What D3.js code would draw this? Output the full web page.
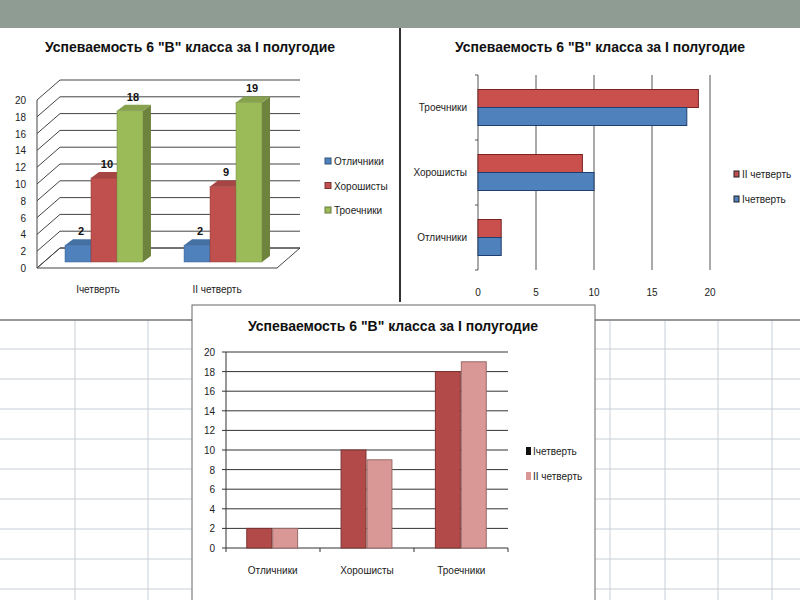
<!DOCTYPE html>
<html><head><meta charset="utf-8">
<script src="https://cdn.jsdelivr.net/npm/d3@7"></script>
<style>body{margin:0;background:#fff}text{font-family:"Liberation Sans Narrow","Liberation Sans",sans-serif}</style>
</head><body>
<svg id="c" width="800" height="600"></svg>
<script>
const title = 'Успеваемость 6 "В" класса за I полугодие';
const categories = ["Отличники", "Хорошисты", "Троечники"];
const quarters = ["Iчетверть", "II четверть"];
const q1 = [2, 10, 18];
const q2 = [2, 9, 19];
const yTicks = d3.range(0, 21, 2);
const xTicks = [0, 5, 10, 15, 20];

const svg = d3.select("#c");
const shade = (c, k) => d3.color(c).darker(k).formatHex();

// background: gray band + spreadsheet grid
svg.append("rect").attr("width", 800).attr("height", 28).attr("fill", "#8f9c94");
const grid = svg.append("g").attr("stroke", "#c9cfd6").attr("stroke-width", 1);
d3.range(349, 600, 30).forEach(y => grid.append("line").attr("x1", 0).attr("x2", 800).attr("y1", y).attr("y2", y));
[75, 148, 610, 665, 718, 772].forEach(x => grid.append("line").attr("x1", x).attr("x2", x).attr("y1", 320).attr("y2", 600));
svg.append("line").attr("x1", 0).attr("x2", 800).attr("y1", 320).attr("y2", 320).attr("stroke", "#777").attr("stroke-width", 1.5);
svg.append("rect").attr("x", 0).attr("y", 28).attr("width", 399).attr("height", 272).attr("fill", "#fff");
svg.append("rect").attr("x", 402).attr("y", 28).attr("width", 398).attr("height", 272).attr("fill", "#fff");
svg.append("line").attr("x1", 400).attr("x2", 400).attr("y1", 28).attr("y2", 302).attr("stroke", "#333").attr("stroke-width", 2);

function titleAt(x, y, size) {
  svg.append("text").attr("x", x).attr("y", y).attr("text-anchor", "middle")
    .attr("font-size", size).attr("font-weight", "bold").attr("fill", "#111").text(title);
}

// ---------- panel 1: 3D columns ----------
{
  const y = d3.scaleLinear().domain([0, 20]).range([268, 100]);
  const dx = 23, dy = -20;
  const g = svg.append("g");
  titleAt(190, 52, 14);
  // floor
  g.append("path").attr("d", `M37,268 L277,268 L${277 + dx},${268 + dy} L${37 + dx},${268 + dy} Z`)
    .attr("fill", "none").attr("stroke", "#444");
  yTicks.forEach(t => {
    g.append("path").attr("d", `M37,${y(t)} L${37 + dx},${y(t) + dy} L${277 + dx},${y(t) + dy}`)
      .attr("fill", "none").attr("stroke", "#444");
    g.append("text").attr("x", 26).attr("y", y(t) + 4).attr("text-anchor", "end")
      .attr("font-size", 10).attr("fill", "#222").text(t);
  });
  g.append("line").attr("x1", 37).attr("x2", 37).attr("y1", y(0)).attr("y2", y(20)).attr("stroke", "#444");
  const colors = ["#4f81bd", "#c0504d", "#9bbb59"];
  const x0 = d3.scaleBand().domain(quarters).range([65, 262]).paddingInner(0.345);
  const x1 = d3.scaleBand().domain(categories).range([0, x0.bandwidth()]);
  const vals = [q1, q2];
  const bd = 8, bdy = -6, base = 262;
  const yb = v => base - (y(0) - y(v));
  quarters.forEach((q, qi) => {
    categories.forEach((c, ci) => {
      const v = vals[qi][ci];
      const x = x0(q) + x1(c), w = x1.bandwidth(), top = yb(v), col = colors[ci];
      g.append("path").attr("d", `M${x + w},${base} L${x + w + bd},${base + bdy} L${x + w + bd},${top + bdy} L${x + w},${top} Z`)
        .attr("fill", shade(col, 1));
      g.append("path").attr("d", `M${x},${top} L${x + bd},${top + bdy} L${x + w + bd},${top + bdy} L${x + w},${top} Z`)
        .attr("fill", shade(col, 0.4));
      g.append("rect").attr("x", x).attr("y", top).attr("width", w).attr("height", base - top)
        .attr("fill", col).attr("stroke", shade(col, 0.8)).attr("stroke-width", 0.5);
      g.append("text").attr("x", x + w / 2 + 3).attr("y", top + bdy - 4).attr("text-anchor", "middle")
        .attr("font-size", 11).attr("font-weight", "bold").attr("fill", "#111").text(v);
    });
    g.append("text").attr("x", x0(q) + x0.bandwidth() / 2 - 6).attr("y", 293).attr("text-anchor", "middle")
      .attr("font-size", 10).attr("fill", "#222").text(q);
  });
  categories.forEach((c, i) => {
    g.append("rect").attr("x", 325).attr("y", 158 + i * 24.5).attr("width", 6).attr("height", 6).attr("fill", colors[i]).attr("stroke", shade(colors[i], 1.2));
    g.append("text").attr("x", 334).attr("y", 165 + i * 24.5).attr("font-size", 10).attr("fill", "#222").text(c);
  });
}

// ---------- panel 2: horizontal bars ----------
{
  titleAt(600, 52, 14);
  const x = d3.scaleLinear().domain([0, 20]).range([478, 710]);
  const y = d3.scaleBand().domain(categories.slice().reverse()).range([75, 270]);
  const g = svg.append("g");
  xTicks.forEach(t => {
    if (t > 0) g.append("line").attr("x1", x(t)).attr("x2", x(t)).attr("y1", 75).attr("y2", 270).attr("stroke", "#555");
    g.append("text").attr("x", x(t)).attr("y", 296).attr("text-anchor", "middle").attr("font-size", 10).attr("fill", "#222").text(t);
  });
  g.append("line").attr("x1", 478).attr("x2", 478).attr("y1", 75).attr("y2", 270).attr("stroke", "#555");
  [75, 140, 205, 270].forEach(t => g.append("line").attr("x1", 475).attr("x2", 478).attr("y1", t).attr("y2", t).attr("stroke", "#555"));
  const hb = 18;
  categories.forEach((c, i) => {
    const cy = y(c) + y.bandwidth() / 2;
    g.append("rect").attr("x", x(0)).attr("y", cy - hb).attr("width", x(q2[i]) - x(0)).attr("height", hb)
      .attr("fill", "#c9504d").attr("stroke", "#7a2422");
    g.append("rect").attr("x", x(0)).attr("y", cy).attr("width", x(q1[i]) - x(0)).attr("height", hb)
      .attr("fill", "#4f81bd").attr("stroke", "#1f3f70");
    g.append("text").attr("x", 467).attr("y", cy + 3).attr("text-anchor", "end").attr("font-size", 10).attr("fill", "#222").text(c);
  });
  [["II четверть", "#c0504d"], ["Iчетверть", "#4f81bd"]].forEach(([t, c], i) => {
    g.append("rect").attr("x", 734).attr("y", 171 + i * 25).attr("width", 5).attr("height", 6).attr("fill", c).attr("stroke", "#222");
    g.append("text").attr("x", 742).attr("y", 178 + i * 25).attr("font-size", 10).attr("fill", "#222").text(t);
  });
}

// ---------- panel 3: clustered columns ----------
{
  svg.append("rect").attr("x", 192).attr("y", 305).attr("width", 403).attr("height", 300)
    .attr("fill", "#fff").attr("stroke", "#666");
  titleAt(393, 331, 14);
  const y = d3.scaleLinear().domain([0, 20]).range([548, 352]);
  const x0 = d3.scaleBand().domain(categories).range([226, 508]).paddingInner(0.45).paddingOuter(0.22);
  const x1 = d3.scaleBand().domain(quarters).range([0, x0.bandwidth()]);
  const g = svg.append("g");
  yTicks.forEach(t => {
    g.append("line").attr("x1", 222).attr("x2", 508).attr("y1", y(t)).attr("y2", y(t)).attr("stroke", "#333");
    g.append("text").attr("x", 215).attr("y", y(t) + 4).attr("text-anchor", "end").attr("font-size", 10).attr("fill", "#222").text(t);
  });
  g.append("line").attr("x1", 226).attr("x2", 226).attr("y1", 352).attr("y2", 548).attr("stroke", "#333");
  [226, 320, 414, 508].forEach(t => g.append("line").attr("x1", t).attr("x2", t).attr("y1", 548).attr("y2", 552).attr("stroke", "#333"));
  const cols = ["#b24a49", "#d99795"];
  const vals = [q1, q2];
  categories.forEach((c, i) => {
    quarters.forEach((q, qi) => {
      g.append("rect").attr("x", x0(c) + x1(q)).attr("y", y(vals[qi][i])).attr("width", x1.bandwidth() - 1)
        .attr("height", y(0) - y(vals[qi][i])).attr("fill", cols[qi]).attr("stroke", shade(cols[qi], 1)).attr("stroke-width", 1);
    });
    g.append("text").attr("x", x0(c) + x0.bandwidth() / 2).attr("y", 574).attr("text-anchor", "middle")
      .attr("font-size", 10).attr("fill", "#222").text(c);
  });
  quarters.forEach((q, i) => {
    g.append("rect").attr("x", 526).attr("y", 447 + i * 25).attr("width", 5).attr("height", 8).attr("fill", i ? cols[1] : "#111");
    g.append("text").attr("x", 533).attr("y", 455 + i * 25).attr("font-size", 10).attr("fill", "#222").text(q);
  });
}
</script>
</body></html>
